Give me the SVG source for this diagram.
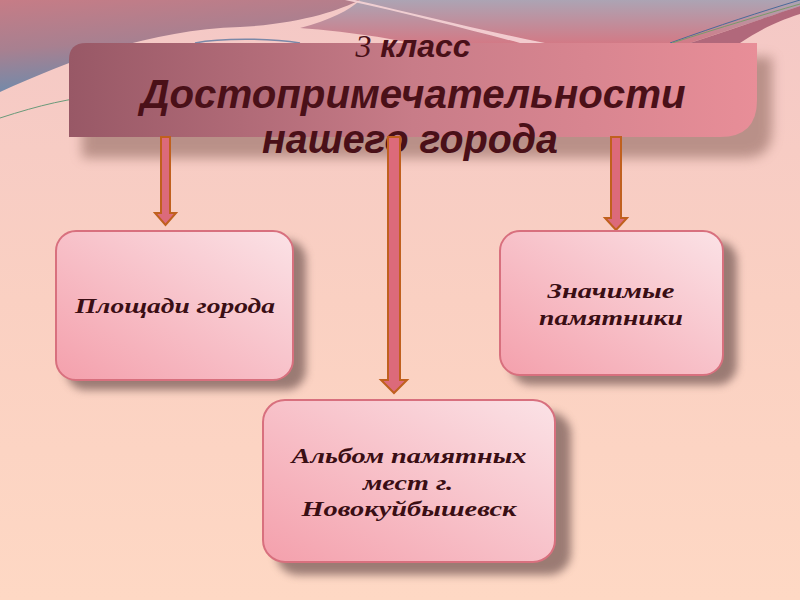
<svg xmlns="http://www.w3.org/2000/svg" width="800" height="600" viewBox="0 0 800 600">
<defs>
<linearGradient id="bg" x1="0" y1="0" x2="0" y2="1">
<stop offset="0" stop-color="#f4c8c6"/>
<stop offset="0.5" stop-color="#fad0c2"/>
<stop offset="1" stop-color="#fed8c4"/>
</linearGradient>
<linearGradient id="topL" x1="0" y1="0" x2="0.3" y2="1">
<stop offset="0" stop-color="#c67c86"/>
<stop offset="0.5" stop-color="#a88090"/>
<stop offset="1" stop-color="#6a8cae"/>
</linearGradient>
<linearGradient id="topR" x1="0" y1="0" x2="0" y2="1">
<stop offset="0" stop-color="#aca4b4"/>
<stop offset="1" stop-color="#d27a86"/>
</linearGradient>
<linearGradient id="bar" x1="0" y1="0" x2="1" y2="0">
<stop offset="0" stop-color="#985866"/>
<stop offset="0.5" stop-color="#c87c88"/>
<stop offset="1" stop-color="#e88e98"/>
</linearGradient>
<linearGradient id="box" x1="0" y1="1" x2="1" y2="0">
<stop offset="0" stop-color="#f4a0ac"/>
<stop offset="1" stop-color="#fbe2e6"/>
</linearGradient>
<filter id="blur" x="-10%" y="-20%" width="120%" height="140%">
<feGaussianBlur stdDeviation="4"/>
</filter>
<filter id="blur2" x="-10%" y="-20%" width="120%" height="140%">
<feGaussianBlur stdDeviation="6"/>
</filter>
</defs>
<style>
.node rect.b{fill:url(#box);stroke:#d8707e;stroke-width:2}
.node rect.s{fill:#8a6c66;opacity:0.85;filter:url(#blur)}
.lbl{font-family:"Liberation Serif","DejaVu Serif",serif;font-style:italic;font-weight:bold;font-size:20px;fill:#3a0e14;text-anchor:middle}
.ttl{font-family:"Liberation Sans","DejaVu Sans",sans-serif;font-style:italic;font-weight:bold;fill:#4a1018;text-anchor:middle}
.arr{fill:#dc6a7a;stroke:#c0601e;stroke-width:2;stroke-linejoin:miter}
</style>
<rect width="800" height="600" fill="url(#bg)"/>
<path d="M0,0 H360 C 340,10 300,24 240,27 C 150,30 70,60 0,92 Z" fill="url(#topL)"/>
<path d="M360,0 H800 V6 C 760,20 720,33 690,43 H410 C 380,36 330,30 300,28 C 330,20 350,10 360,0 Z" fill="url(#topR)"/>
<path d="M355,0 C 420,15 480,30 545,43 L 520,43 C 470,30 410,14 345,0 Z" fill="#f6d4d6" opacity="0.9"/>
<path d="M690,43 C 730,30 770,16 800,6 V 14 C 775,22 760,30 740,43 Z" fill="#a05068" opacity="0.8"/>
<path d="M670,43 C 720,25 760,12 800,0" fill="none" stroke="#4a6a9a" stroke-width="1"/>
<path d="M672,43 C 722,27 762,15 800,4" fill="none" stroke="#7a9a6a" stroke-width="1"/>
<path d="M0,118 C 40,105 70,98 105,95" fill="none" stroke="#6a9a7a" stroke-width="1"/>
<path d="M195,43 C 220,38 270,38 300,43" fill="none" stroke="#7a88a8" stroke-width="1.5"/>
<g id="header">
<path d="M82,60 Q82,57 95,57 H772 V130 Q772,158 745,158 H82 Z" fill="#a07870" opacity="0.7" filter="url(#blur2)"/>
<path d="M86,43 H757 V100 Q757,137 720,137 H69 V60 Q69,43 86,43 Z" fill="url(#bar)"/>
<text class="ttl" x="413" y="57" font-size="32"><tspan font-family="Liberation Serif,serif" font-weight="normal">3</tspan> класс</text>
<text class="ttl" x="413" y="108" font-size="40" textLength="545" lengthAdjust="spacingAndGlyphs">Достопримечательности</text>
<text class="ttl" x="410" y="153" font-size="40" textLength="296" lengthAdjust="spacingAndGlyphs">нашего города</text>
</g>
<g id="connectors">
<path class="arr" d="M161,137 H170 V213 H176 L165.5,225 L155,213 H161 Z"/>
<path class="arr" d="M388,137 H400 V380 H407 L394,393 L381,380 H388 Z"/>
<path class="arr" d="M611,137 H621 V218 H627 L616,230 L605,218 H611 Z"/>
</g>
<g id="node1" class="node">
<rect class="s" x="66" y="240" width="240" height="150" rx="20"/>
<rect class="b" x="56" y="231" width="237" height="149" rx="20"/>
<text class="lbl" x="175" y="313" textLength="200" lengthAdjust="spacingAndGlyphs">Площади города</text>
</g>
<g id="node2" class="node">
<rect class="s" x="276" y="412" width="295" height="163" rx="22"/>
<rect class="b" x="263" y="400" width="292" height="162" rx="22"/>
<text class="lbl" x="409" y="463" textLength="235" lengthAdjust="spacingAndGlyphs">Альбом памятных</text>
<text class="lbl" x="408" y="490" textLength="90" lengthAdjust="spacingAndGlyphs">мест г.</text>
<text class="lbl" x="409" y="516" textLength="215" lengthAdjust="spacingAndGlyphs">Новокуйбышевск</text>
</g>
<g id="node3" class="node">
<rect class="s" x="511" y="241" width="226" height="144" rx="20"/>
<rect class="b" x="500" y="231" width="223" height="144" rx="20"/>
<text class="lbl" x="611" y="298" textLength="127" lengthAdjust="spacingAndGlyphs">Значимые</text>
<text class="lbl" x="611" y="325" textLength="144" lengthAdjust="spacingAndGlyphs">памятники</text>
</g>
</svg>
